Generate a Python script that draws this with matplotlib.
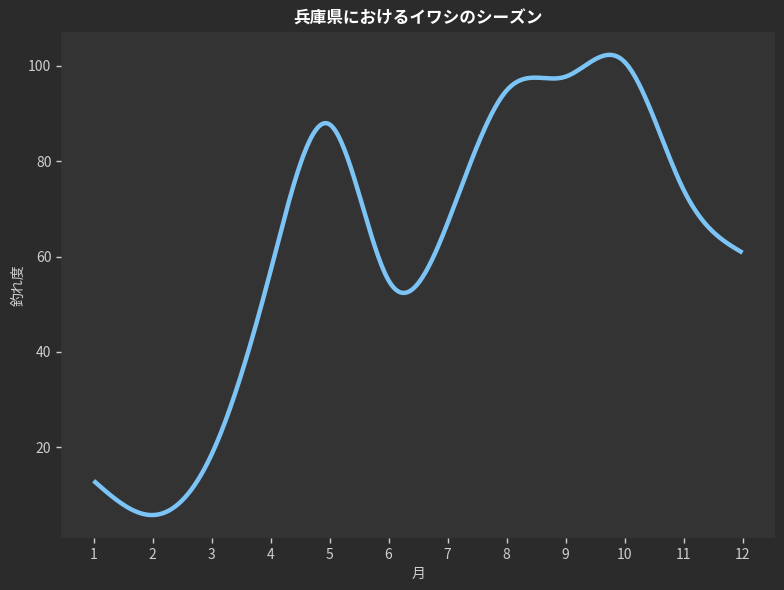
import numpy as np
import matplotlib
matplotlib.use('Agg')
import matplotlib.pyplot as plt

plt.rcParams['font.family'] = ['Noto Sans CJK JP', 'DejaVu Sans']

months = [1, 2, 3, 4, 5, 6, 7, 8, 9, 10, 11, 12]
catch_score = [13, 5.8, 18.5, 57, 87.7, 55, 67, 94.8, 97.7, 100.8, 74, 60.8]

title = "兵庫県におけるイワシのシーズン"
xlabel = "月"
ylabel = "釣れ度"


def natural_spline(x, y, xs):
    # cubic interpolating spline with natural ends (zero curvature)
    x = np.asarray(x, float)
    y = np.asarray(y, float)
    n = len(x)
    h = np.diff(x)
    A = np.zeros((n, n))
    b = np.zeros(n)
    A[0, 0] = 1
    A[-1, -1] = 1
    for i in range(1, n - 1):
        A[i, i - 1] = h[i - 1]
        A[i, i] = 2 * (h[i - 1] + h[i])
        A[i, i + 1] = h[i]
        b[i] = 6 * ((y[i + 1] - y[i]) / h[i] - (y[i] - y[i - 1]) / h[i - 1])
    M = np.linalg.solve(A, b)
    idx = np.clip(np.searchsorted(x, xs) - 1, 0, n - 2)
    x0, x1 = x[idx], x[idx + 1]
    hh = x1 - x0
    t0 = x1 - xs
    t1 = xs - x0
    return (M[idx] * t0 ** 3 / (6 * hh) + M[idx + 1] * t1 ** 3 / (6 * hh)
            + (y[idx] / hh - M[idx] * hh / 6) * t0
            + (y[idx + 1] / hh - M[idx + 1] * hh / 6) * t1)


xs = np.linspace(months[0], months[-1], 400)
ys = natural_spline(months, catch_score, xs)

fig = plt.figure(figsize=(7.84, 5.9), dpi=100, facecolor='#2b2b2b')
ax = fig.add_axes([0.078, 0.088, 0.9105, 0.858])
ax.set_facecolor('#333333')
ax.plot(xs, ys, color='#7cc4f5', lw=3.2, solid_capstyle='butt')

for s in ax.spines.values():
    s.set_visible(False)
ax.set_xticks(months)
ax.tick_params(colors='#cfcfcf', labelsize=10, length=3.5, width=1)
ax.set_title(title, color='white', fontsize=12, fontweight='bold', pad=6)
ax.set_xlabel(xlabel, color='#cfcfcf', fontsize=10, labelpad=4)
ax.set_ylabel(ylabel, color='#cfcfcf', fontsize=10, labelpad=1.5)

fig.savefig('out.png', dpi=100, facecolor=fig.get_facecolor())
